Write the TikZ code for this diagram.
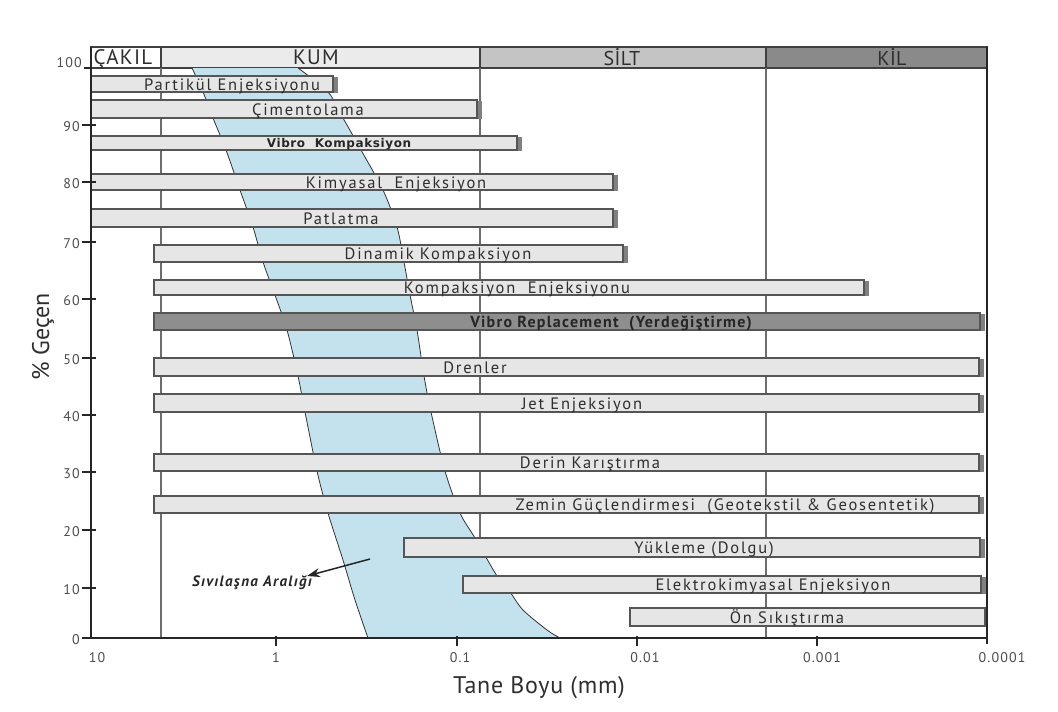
\documentclass[tikz,border=0pt]{standalone}
\usepackage{fontspec}
\setmainfont{PT Sans}
\newfontfamily\vkfont{DejaVu Sans}
\usetikzlibrary{arrows.meta}

\definecolor{barfill}{HTML}{E6E6E6}
\definecolor{barline}{HTML}{555555}
\definecolor{barshade}{HTML}{808080}
\definecolor{vrfill}{HTML}{8E8E8E}
\definecolor{bandblue}{HTML}{C4E2EE}
\definecolor{kumhead}{HTML}{EBEBEB}
\definecolor{silthead}{HTML}{C4C4C4}
\definecolor{kilhead}{HTML}{8A8A8A}
\definecolor{gridc}{HTML}{6E6E6E}
\definecolor{txt}{HTML}{2E2E2E}
\definecolor{axisc}{HTML}{262626}

% method bar: [fill]{x1}{x2}{y1}{y2}, with a grey shadow on its right end
\newcommand{\methodbar}[5][barfill]{%
  \fill[barshade] (#3,#4+1) rectangle (#3+5,#5+1);
  \filldraw[fill=#1, draw=barline, line width=1.1pt] (#2,#4) rectangle (#3,#5);
}

\begin{document}
\begin{tikzpicture}[x=1pt,y=-1pt,
  hdrtext/.style={font=\fontsize{20}{20}\selectfont\addfontfeature{LetterSpace=2}, text=txt, inner sep=0pt, anchor=base},
  hdrwide/.style={hdrtext, font=\fontsize{21}{21}\selectfont\addfontfeature{LetterSpace=6}},
  lbl/.style={font=\fontsize{16.5}{16.5}\selectfont\addfontfeature{LetterSpace=11}, text=txt, inner sep=0pt, anchor=base},
  boldlbl/.style={font=\fontsize{16}{16}\selectfont\bfseries\addfontfeature{LetterSpace=8}, text=black!85, inner sep=0pt, anchor=base},
  vklbl/.style={font=\vkfont\fontsize{12}{12}\selectfont\bfseries\addfontfeature{LetterSpace=5}, text=black!85, inner sep=0pt, anchor=base},
  ticklbl/.style={font=\fontsize{14}{14}\selectfont\addfontfeature{LetterSpace=8}, text=black!70, inner sep=0pt},
  gridline/.style={draw=gridc, line width=1.2pt},
  axisline/.style={draw=axisc, line width=2.6pt},
  tickline/.style={draw=axisc, line width=1.4pt},
  bandedge/.style={draw=black!80, line width=0.8pt},
  hdrcell/.style={draw=black!75, line width=1.3pt}]

% canvas
\fill[white] (0,0) rectangle (1058,712);

% soil class header
\filldraw[hdrcell, fill=white]    (91,47)  rectangle (161,68);
\filldraw[hdrcell, fill=kumhead]  (161,47) rectangle (480,68);
\filldraw[hdrcell, fill=silthead] (480,47) rectangle (766,68);
\filldraw[hdrcell, fill=kilhead]  (766,47) rectangle (987,68);
\node[hdrwide] (hcakil) at (123,64.5) {ÇAKIL};
\node[hdrwide] (hkum)   at (316,64.5) {KUM};
\node[hdrtext] (hsilt)  at (622,65)   {SİLT};
\node[hdrtext] (hkil)   at (892,65)   {KİL};

% class boundaries
\draw[gridline] (161,68) -- (161,638);
\draw[gridline] (480,68) -- (480,638);
\draw[gridline] (766,68) -- (766,638);

% liquefaction band
\fill[bandblue]
  plot[smooth] coordinates {(192,68) (203,92) (213,118) (226,150) (240,190) (253,227)
    (263,262) (275,295) (287,330) (298,376) (305,412) (317,471) (328,513) (343,560)
    (355,600) (368,638)}
  -- plot[smooth] coordinates {(560,638) (547,630) (523,610) (510,592) (497,576)
    (475,538) (460,513) (445,471) (431,412) (424,376) (417,330) (410,295) (404,262)
    (397,227) (383,190) (361,150) (343,118) (328,92) (298,68)}
  -- cycle;
\draw[bandedge] plot[smooth] coordinates {(192,68) (203,92) (213,118) (226,150) (240,190)
    (253,227) (263,262) (275,295) (287,330) (298,376) (305,412) (317,471) (328,513)
    (343,560) (355,600) (368,638)};
\draw[bandedge] plot[smooth] coordinates {(298,68) (328,92) (343,118) (361,150) (383,190)
    (397,227) (404,262) (410,295) (417,330) (424,376) (431,412) (445,471) (460,513)
    (475,538) (497,576) (510,592) (523,610) (547,630) (560,638)};

% method bars
\methodbar{91}{333}{76}{92}
\methodbar{91}{477}{100}{118}
\methodbar{91}{517}{136}{150}
\methodbar{91}{613}{174}{190}
\methodbar{91}{613}{209}{227}
\methodbar{154}{623}{245}{262}
\methodbar{154}{864}{280}{295}
\methodbar[vrfill]{154}{980}{313}{330}
\methodbar{154}{979}{358}{376}
\methodbar{154}{979}{394}{412}
\methodbar{154}{979}{454}{471}
\methodbar{154}{979}{496}{513}
\methodbar{404}{980}{538}{557}
\methodbar{463}{981}{576}{593}
\filldraw[fill=barfill, draw=barline, line width=1.1pt] (630,608) rectangle (985,626);

\node[lbl]     (m1)  at (232,90)    {Partikül Enjeksiyonu};
\node[lbl]     (m2)  at (308,115)   {Çimentolama};
\node[vklbl]   (m3)  at (339,147.5) {Vibro\ \ Kompaksiyon};
\node[lbl]     (m4)  at (396,188)   {Kimyasal\ \ Enjeksiyon};
\node[lbl]     (m5)  at (341,224)   {Patlatma};
\node[lbl]     (m6)  at (438,259.5) {Dinamik Kompaksiyon};
\node[lbl]     (m7)  at (517,293.5) {Kompaksiyon\ \ Enjeksiyonu};
\node[boldlbl] (m8)  at (611,327.5) {Vibro Replacement\ \ (Yerdeğiştirme)};
\node[lbl]     (m9)  at (475,373)   {Drenler};
\node[lbl]     (m10) at (582,409)   {Jet Enjeksiyon};
\node[lbl]     (m11) at (590,468.5) {Derin Karıştırma};
\node[lbl]     (m12) at (725,510.5) {Zemin Güçlendirmesi\ \ (Geotekstil \& Geosentetik)};
\node[lbl]     (m13) at (704,553.5) {Yükleme (Dolgu)};
\node[lbl]     (m14) at (773,590.5) {Elektrokimyasal Enjeksiyon};
\node[lbl]     (m15) at (787,623.5) {Ön Sıkıştırma};

% frame and axes
\draw[draw=black!85, line width=2pt] (987,47) -- (987,644);
\draw[axisline] (91,47) -- (91,639.3);
\draw[axisline] (89.7,638) -- (987,638);

% percent axis
\foreach \p/\yy in {0/638,10/588,20/530,30/472,40/415,50/358,60/299,70/242,80/182,90/125}{
  \draw[tickline] (82,\yy) -- (96,\yy);
  \node[ticklbl, anchor=east] (yt\p) at (80,\yy+2) {\p};
}
\draw[tickline] (84,68) -- (91,68);
\node[ticklbl, anchor=east] (yt100) at (82,63) {100};

% grain size axis
\foreach \xx in {276,457,637,817}{
  \draw[tickline] (\xx,636) -- (\xx,646);
}
\node[ticklbl] (xt0) at (97,658)   {10};
\node[ticklbl] (xt1) at (276,658)  {1};
\node[ticklbl] (xt2) at (460,658)  {0.1};
\node[ticklbl] (xt3) at (645,658)  {0.01};
\node[ticklbl] (xt4) at (822,658)  {0.001};
\node[ticklbl] (xt5) at (1002,658) {0.0001};

% axis titles
\node[font=\fontsize{24}{24}\selectfont, text=txt, rotate=90, inner sep=0pt] (ytitle) at (43,337) {\% Geçen};
\node[font=\fontsize{24}{24}\selectfont\addfontfeature{LetterSpace=3}, text=txt, inner sep=0pt] (xtitle) at (539,688) {Tane Boyu (mm)};

% liquefaction range pointer
\node[font=\fontsize{15}{15}\selectfont\bfseries\itshape\addfontfeature{LetterSpace=9}, text=black!85, inner sep=0pt, anchor=base] (sv) at (252,586) {Sıvılaşna Aralığı};
\coordinate (svfrom) at (370,559);
\coordinate (svto) at (307,576);
\draw[draw=black!85, line width=1.5pt, -{Stealth[length=13pt,width=9pt]}] (svfrom) -- (svto);

\end{tikzpicture}
\end{document}
